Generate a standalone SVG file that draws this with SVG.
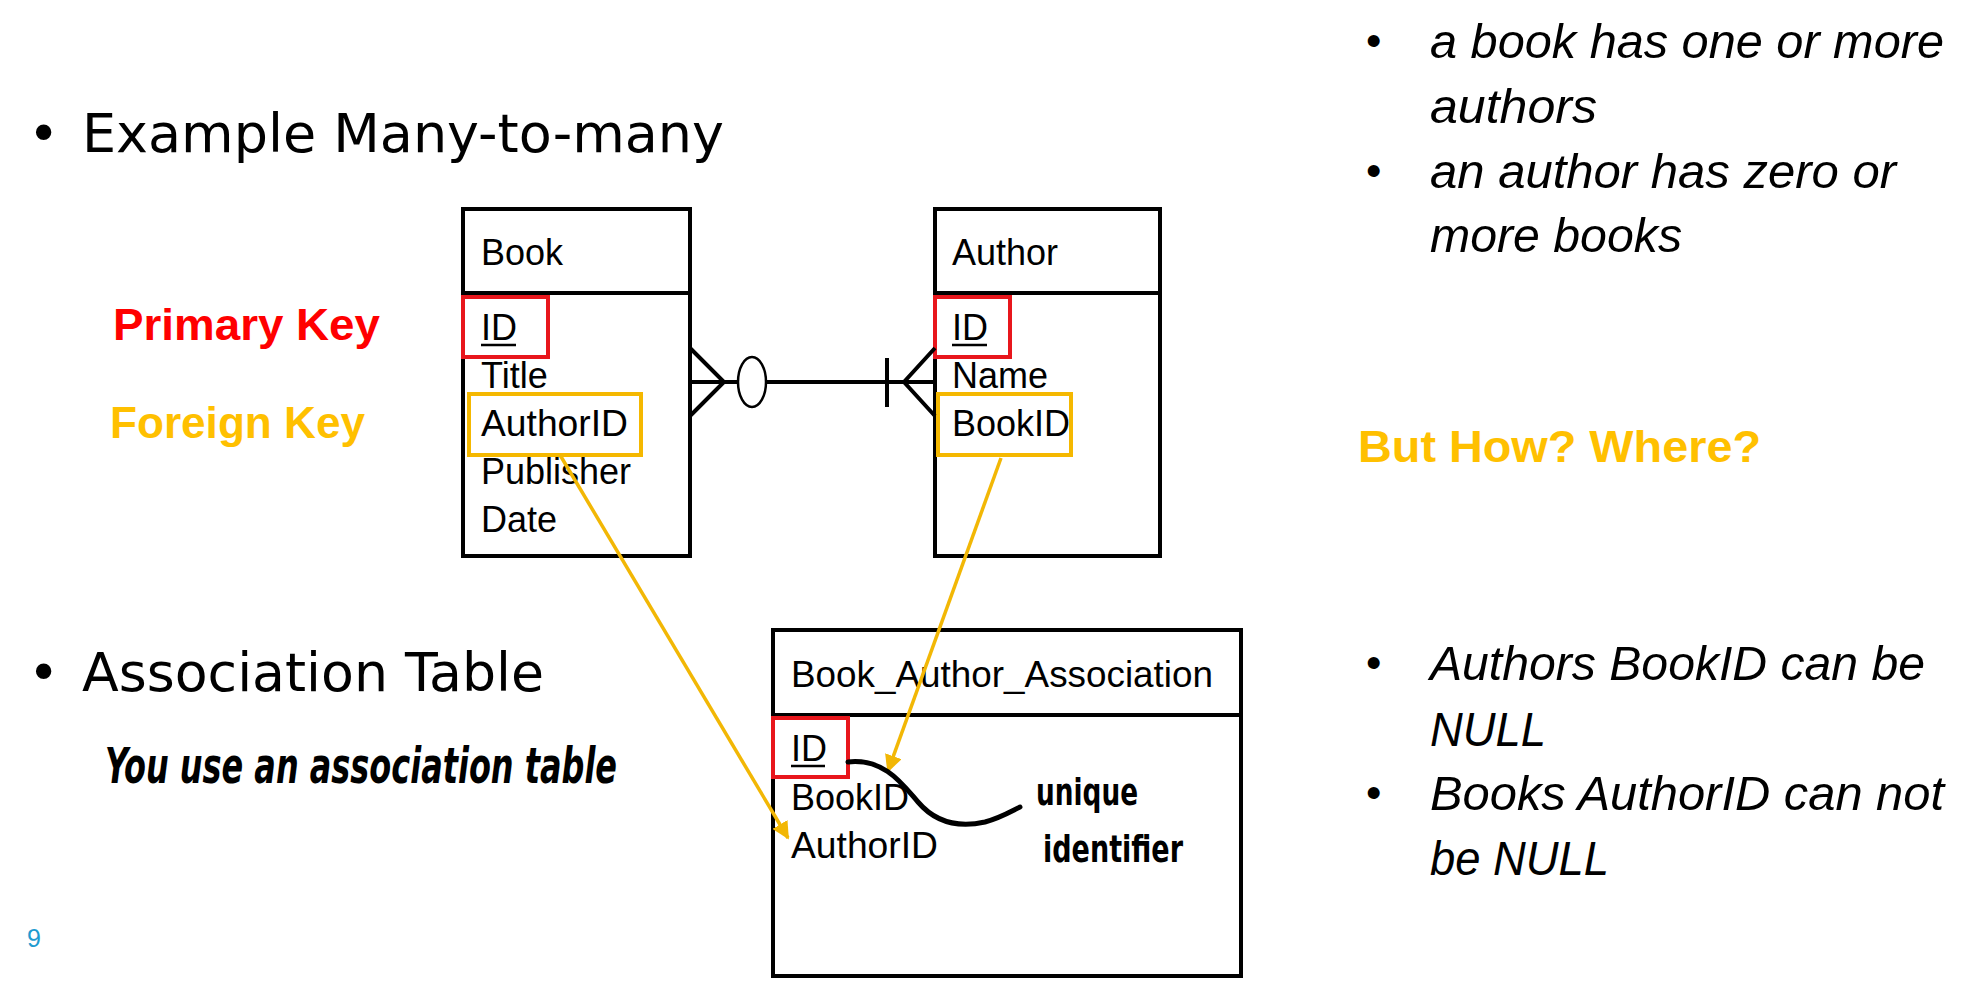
<svg xmlns="http://www.w3.org/2000/svg" width="1975" height="989" viewBox="0 0 1975 989">
  <defs>
    <style>
      .bg { fill: #ffffff; }
      .box { fill: #ffffff; stroke: #000000; stroke-width: 4; }
      .div { stroke: #000000; stroke-width: 4; }
      .fld { font-family: "Liberation Sans", Arial, sans-serif; font-size: 36px; fill: #000000; }
      .pk { fill: none; stroke: #E8161C; stroke-width: 4; }
      .fk { fill: none; stroke: #F5B800; stroke-width: 4; }
      .ul { stroke: #000000; stroke-width: 2.5; }
      .bullet-l { font-family: "DejaVu Sans", Verdana, sans-serif; font-size: 53px; fill: #000000; }
      .note { font-family: "Liberation Sans", Arial, sans-serif; font-style: italic; font-size: 48px; fill: #000000; }
      .dot { font-family: "Liberation Sans", Arial, sans-serif; font-size: 44px; fill: #000000; }
      .keylbl { font-family: "Liberation Sans", Arial, sans-serif; font-weight: bold; font-size: 45px; }
      .hand { font-family: "DejaVu Sans", sans-serif; font-weight: bold; fill: #000000; }
      .rel { stroke: #000000; stroke-width: 4; fill: none; }
      .fkline { stroke: #F2B705; stroke-width: 3.5; fill: none; }
    </style>
    <marker id="ah" viewBox="0 0 10 10" refX="9" refY="5" markerWidth="5" markerHeight="5" orient="auto" markerUnits="strokeWidth">
      <path d="M0,0 L10,5 L0,10 z" fill="#F2B705"/>
    </marker>
  </defs>

  <rect class="bg" x="0" y="0" width="1975" height="989"/>

  <!-- Left slide texts -->
  <g id="title-example">
    <text class="bullet-l" x="28" y="152">•</text>
    <text class="bullet-l" x="82" y="152" textLength="642" lengthAdjust="spacingAndGlyphs">Example Many-to-many</text>
  </g>
  <g id="label-primary-key">
    <text class="keylbl" x="113" y="340" fill="#FF0000" textLength="267" lengthAdjust="spacingAndGlyphs">Primary Key</text>
  </g>
  <g id="label-foreign-key">
    <text class="keylbl" x="110" y="438" fill="#FFC000" textLength="255" lengthAdjust="spacingAndGlyphs">Foreign Key</text>
  </g>
  <g id="title-association">
    <text class="bullet-l" x="28" y="691">•</text>
    <text class="bullet-l" x="82" y="691" textLength="462" lengthAdjust="spacingAndGlyphs">Association Table</text>
  </g>
  <g id="note-handwritten">
    <text class="hand" x="105" y="783" font-size="50" font-style="italic" textLength="512" lengthAdjust="spacingAndGlyphs">You use an association table</text>
  </g>
  <g id="page-number">
    <text x="27" y="947" font-family="'Liberation Sans', Arial, sans-serif" font-size="25" fill="#1E9BD0">9</text>
  </g>

  <!-- Right notes -->
  <g id="notes-top">
    <text class="dot" x="1366" y="56">•</text>
    <text class="note" x="1430" y="58" textLength="514" lengthAdjust="spacingAndGlyphs">a book has one or more</text>
    <text class="note" x="1430" y="123" textLength="167" lengthAdjust="spacingAndGlyphs">authors</text>
    <text class="dot" x="1366" y="186">•</text>
    <text class="note" x="1430" y="188" textLength="466" lengthAdjust="spacingAndGlyphs">an author has zero or</text>
    <text class="note" x="1430" y="252" textLength="252" lengthAdjust="spacingAndGlyphs">more books</text>
  </g>
  <g id="question">
    <text class="keylbl" x="1358" y="462" fill="#FFC000" textLength="403" lengthAdjust="spacingAndGlyphs">But How? Where?</text>
  </g>
  <g id="notes-bottom">
    <text class="dot" x="1366" y="678">•</text>
    <text class="note" x="1430" y="680" textLength="495" lengthAdjust="spacingAndGlyphs">Authors BookID can be</text>
    <text class="note" x="1430" y="746" textLength="116" lengthAdjust="spacingAndGlyphs">NULL</text>
    <text class="dot" x="1366" y="808">•</text>
    <text class="note" x="1430" y="810" textLength="514" lengthAdjust="spacingAndGlyphs">Books AuthorID can not</text>
    <text class="note" x="1430" y="875" textLength="179" lengthAdjust="spacingAndGlyphs">be NULL</text>
  </g>

  <!-- Book entity -->
  <g id="node-book">
    <rect class="box" x="463" y="209" width="227" height="347"/>
    <line class="div" x1="463" y1="293" x2="690" y2="293"/>
    <text class="fld" x="481" y="265">Book</text>
    <text class="fld" x="481" y="340">ID</text>
    <line class="ul" x1="481" y1="345" x2="516" y2="345"/>
    <text class="fld" x="481" y="388">Title</text>
    <text class="fld" x="481" y="436" textLength="147" lengthAdjust="spacingAndGlyphs">AuthorID</text>
    <text class="fld" x="481" y="484">Publisher</text>
    <text class="fld" x="481" y="532">Date</text>
    <rect class="pk" x="463" y="297" width="85" height="60"/>
    <rect class="fk" x="469" y="394" width="172" height="61"/>
  </g>

  <!-- Author entity -->
  <g id="node-author">
    <rect class="box" x="935" y="209" width="225" height="347"/>
    <line class="div" x1="935" y1="293" x2="1160" y2="293"/>
    <text class="fld" x="952" y="265">Author</text>
    <text class="fld" x="952" y="340">ID</text>
    <line class="ul" x1="952" y1="345" x2="987" y2="345"/>
    <text class="fld" x="952" y="388">Name</text>
    <text class="fld" x="952" y="436">BookID</text>
    <rect class="pk" x="935" y="297" width="75" height="60"/>
    <rect class="fk" x="938" y="394" width="133" height="61"/>
  </g>

  <!-- Association entity -->
  <g id="node-association">
    <rect class="box" x="773" y="630" width="468" height="346"/>
    <line class="div" x1="773" y1="715" x2="1241" y2="715"/>
    <text class="fld" x="791" y="687" textLength="422" lengthAdjust="spacingAndGlyphs">Book_Author_Association</text>
    <text class="fld" x="791" y="761">ID</text>
    <line class="ul" x1="791" y1="766" x2="825" y2="766"/>
    <text class="fld" x="791" y="810">BookID</text>
    <text class="fld" x="791" y="858" textLength="147" lengthAdjust="spacingAndGlyphs">AuthorID</text>
    <rect class="pk" x="773" y="718" width="75" height="59"/>
  </g>

  <!-- Connectors -->
  <g id="connectors">
    <line class="rel" x1="690" y1="382" x2="738" y2="382"/>
    <line class="rel" x1="766" y1="382" x2="935" y2="382"/>
    <polyline class="rel" points="690,348 724,382 690,416"/>
    <ellipse cx="752" cy="382" rx="14" ry="25" fill="#ffffff" stroke="#000000" stroke-width="2.5"/>
    <line class="rel" x1="887" y1="358" x2="887" y2="407"/>
    <polyline class="rel" points="935,348 904,382 935,416"/>
    <line class="fkline" x1="560" y1="455" x2="788" y2="838" marker-end="url(#ah)"/>
    <line class="fkline" x1="1001" y1="458" x2="888" y2="771" marker-end="url(#ah)"/>
    <path d="M848,762 C885,758 903,785 918,802 C935,822 958,828 985,822 C1000,818 1010,812 1020,807" stroke="#000000" stroke-width="5" fill="none" stroke-linecap="round"/>
  </g>

  <g id="note-unique">
    <text class="hand" x="1036" y="805" font-size="38" textLength="102" lengthAdjust="spacingAndGlyphs">unique</text>
    <text class="hand" x="1043" y="862" font-size="38" textLength="140" lengthAdjust="spacingAndGlyphs">identifier</text>
  </g>
</svg>
